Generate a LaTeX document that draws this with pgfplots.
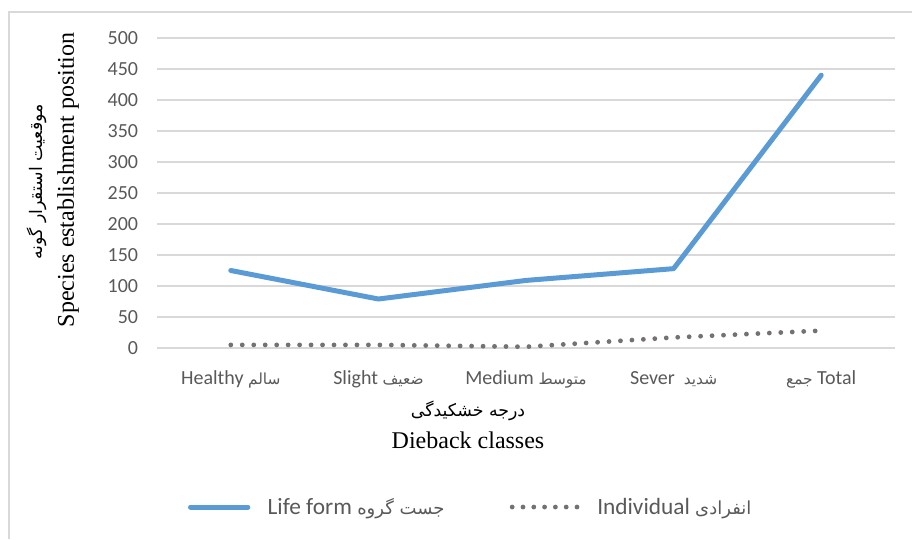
\documentclass[border=0pt]{standalone}
\usepackage{pgfplots}
\pgfplotsset{compat=1.18}
\usepackage{fontspec}
\setmainfont{Carlito}
\newfontfamily\tnr{Liberation Serif}
\newfontfamily\arabicfont[Script=Arabic]{DejaVu Sans}
\TeXXeTstate=1
\definecolor{lineblue}{HTML}{5B9BD5}
\definecolor{dotgray}{HTML}{767171}
\definecolor{gridgray}{HTML}{D9D9D9}
\definecolor{txtgray}{HTML}{595959}
\newcommand{\fa}[1]{{\arabicfont\fontsize{11.5}{13}\selectfont\beginR #1\endR}}
\newcommand{\fal}[1]{{\arabicfont\fontsize{13.5}{15}\selectfont\beginR #1\endR}}
\pgfplotsset{
  lineleg/.style={legend image code/.code={\draw[##1] (0pt,0pt) -- (43pt,0pt);}},
  dotleg/.style={legend image code/.code={\draw[##1, dash pattern=on 0pt off 8.1pt] (0pt,0pt) -- (49pt,0pt);}},
}
\begin{document}
\begin{tikzpicture}[x=1pt,y=1pt]
\path[use as bounding box] (0,0) rectangle (684,404.25);
\draw[color=gridgray, line width=1.1pt] (6.75,0) -- (6.75,395.25) -- (684,395.25);
\begin{axis}[
  at={(117.75pt,143.25pt)}, anchor=south west,
  scale only axis, width=553.5pt, height=232.5pt,
  xmin=-0.5, xmax=4.5, ymin=0, ymax=500,
  clip=false,
  axis line style={draw=none},
  major tick length=0pt,
  ymajorgrids, grid style={color=gridgray, line width=1.1pt},
  ytick={0,50,...,500},
  xtick={0,1,2,3,4},
  /pgf/number format/assume math mode=true,
  xticklabels={{Healthy \fa{سالم}}, {Slight \fa{ضعیف}}, {Medium \fa{متوسط}}, {Sever\ \ \fa{شدید}}, {\fa{جمع} Total}},
  tick label style={font=\fontsize{15}{18}\selectfont, text=txtgray},
  xticklabel style={anchor=base, inner sep=0pt, yshift=-27pt},
  yticklabel style={anchor=east, inner sep=0pt, xshift=-14pt},
  legend columns=2,
  legend cell align=left,
  legend style={at={(rel axis cs:0.4255,-0.513)}, anchor=center, draw=none, fill=none,
    font=\fontsize{17.5}{20}\selectfont, text=txtgray,
    /tikz/every even column/.append style={column sep=47pt},
    /tikz/every odd column/.append style={column sep=11pt}},
]
\addplot[color=lineblue, line width=3.75pt, line join=round, line cap=round, lineleg]
  coordinates {(0,125) (1,79) (2,109) (3,128) (4,440)};
\addlegendentry{Life form \fal{جست گروه}}
\addplot[color=dotgray, line width=3.6pt, line cap=round, dash pattern=on 0pt off 8.6pt, dotleg]
  coordinates {(0,5) (1,5) (2,2) (3,17) (4,28)};
\addlegendentry{Individual \fal{انفرادی}}
\end{axis}
\node[font=\arabicfont\fontsize{13}{15}\selectfont] at (351,96) {\beginR درجه خشکیدگی\endR};
\node[font=\tnr\fontsize{18}{21}\selectfont] at (351,74.25) {Dieback classes};
\node[rotate=90, font=\arabicfont\fontsize{13}{15}\selectfont] at (27.75,267.75) {\beginR موقعیت استقرار گونه\endR};
\node[rotate=90, font=\tnr\fontsize{18}{21}\selectfont] at (51,269.25) {Species establishment position};
\end{tikzpicture}
\end{document}
